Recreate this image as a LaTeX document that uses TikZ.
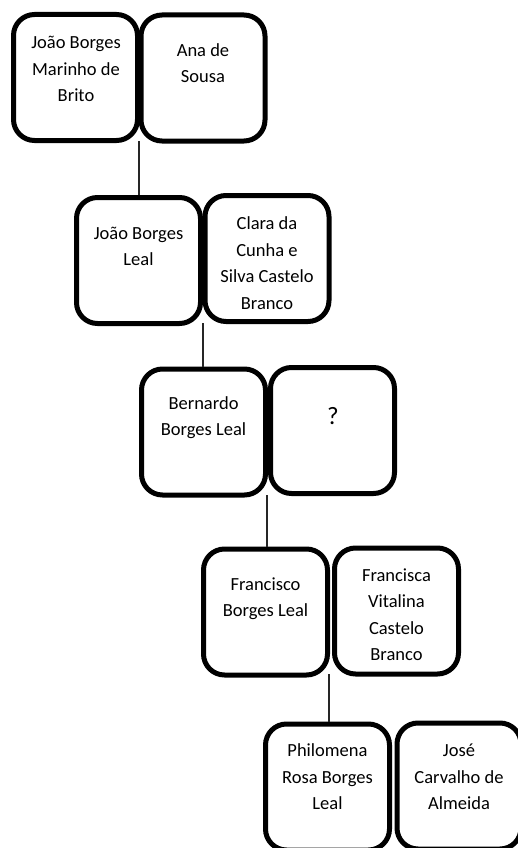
\documentclass[tikz,border=0pt]{standalone}
\usepackage{fontspec}
\setmainfont{Carlito}
\begin{document}
\begin{tikzpicture}[x=1pt,y=-1pt,
  person/.style={draw=black,line width=5pt,rounded corners=21pt,minimum width=124pt,minimum height=126pt,inner sep=0pt},
  persontext/.style={align=center,inner sep=0pt,font=\fontsize{18.5}{26.5}\selectfont},
  link/.style={draw=black!85,line width=1.2pt}]
\useasboundingbox (0,0) rectangle (518,848);
\clip (0,0) rectangle (518,848);
% boxes
\node[person] (a1) at (75.5,77.5) {};
\node[person] (a2) at (203,78) {};
\node[person] (b1) at (138.5,260.5) {};
\node[person] (b2) at (267,258.5) {};
\node[person] (c1) at (203.5,432) {};
\node[person] (c2) at (332.5,430.5) {};
\node[person] (d1) at (265.5,612) {};
\node[person] (d2) at (396.5,611) {};
\node[person] (e1) at (327.5,787) {};
\node[person] (e2) at (459,786) {};
% texts
\node[persontext] (ta1) at (76,69) {João Borges\\Marinho de\\Brito};
\node[persontext] (ta2) at (203,63) {Ana de\\Sousa};
\node[persontext] (tb1) at (138.5,246.5) {João Borges\\Leal};
\node[persontext] (tb2) at (267,263) {Clara da\\Cunha e\\Silva Castelo\\Branco};
\node[persontext] (tc1) at (203.5,417.5) {Bernardo\\Borges Leal};
\node[persontext,font=\fontsize{25}{30}\selectfont] (tc2) at (333,416) {?};
\node[persontext] (td1) at (265.5,598.5) {Francisco\\Borges Leal};
\node[persontext] (td2) at (396.5,614.5) {Francisca\\Vitalina\\Castelo\\Branco};
\node[persontext] (te1) at (327.5,777) {Philomena\\Rosa Borges\\Leal};
\node[persontext] (te2) at (459,777) {José\\Carvalho de\\Almeida};
% junctions
\coordinate (ja) at (139,141);
\coordinate (jb) at (203,323);
\coordinate (jc) at (267,495);
\coordinate (jd) at (329,674);
\draw[link] (ja) -- (ja |- b1.north);
\draw[link] (jb) -- (jb |- c1.north);
\draw[link] (jc) -- (jc |- d1.north);
\draw[link] (jd) -- (jd |- e1.north);
\end{tikzpicture}
\end{document}
